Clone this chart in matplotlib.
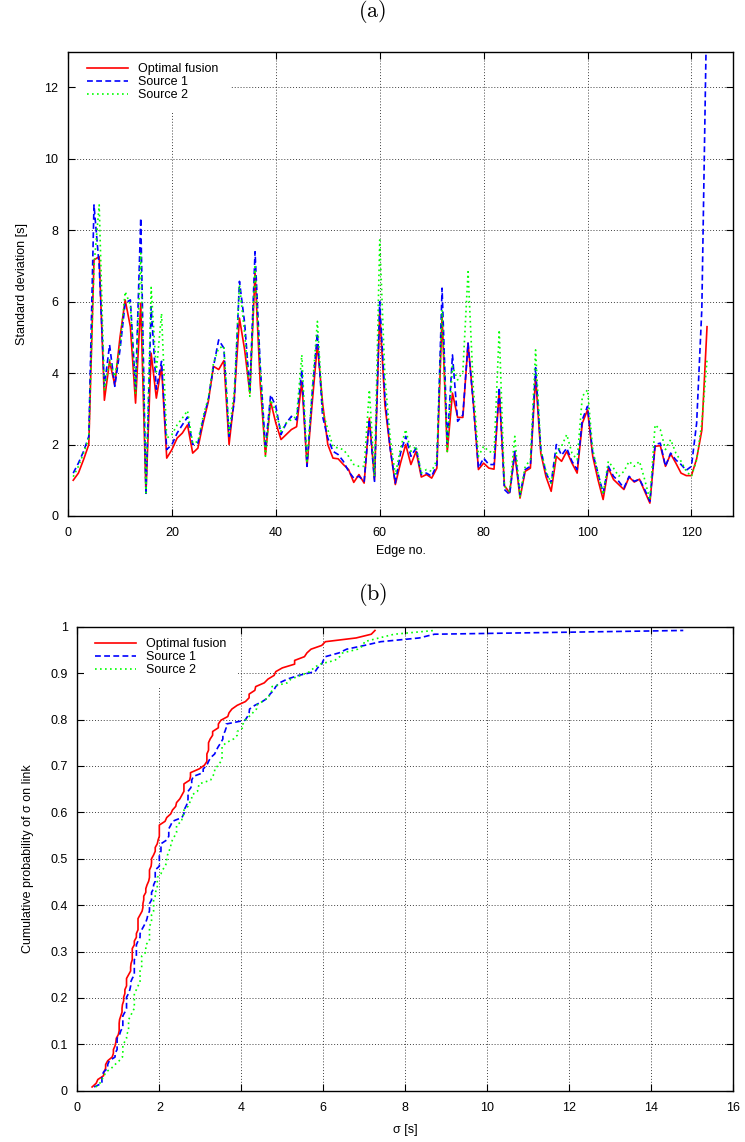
import numpy as np
import matplotlib
matplotlib.use("Agg")
import matplotlib.pyplot as plt
from matplotlib.ticker import MultipleLocator, FormatStrFormatter

plt.rcParams['font.family'] = ['Liberation Sans', 'DejaVu Sans']
plt.rcParams['mathtext.fontset'] = 'cm'

# standard deviation per edge (edges 1..123)
optimal = [
    1.0, 1.2, 1.58, 2.0, 7.17, 7.26, 3.24, 4.33, 3.67, 5.0,
    6.05, 5.3, 3.16, 5.96, 0.64, 4.56, 3.3, 4.19, 1.62, 1.86,
    2.18, 2.32, 2.55, 1.76, 1.9, 2.6, 3.2, 4.19, 4.1, 4.35,
    2.0, 3.3, 5.54, 4.65, 3.44, 6.8, 3.7, 1.7, 3.2, 2.6,
    2.14, 2.28, 2.42, 2.5, 3.77, 1.39, 3.16, 4.8, 3.16, 2.0,
    1.62, 1.6, 1.44, 1.3, 0.94, 1.16, 0.92, 2.74, 1.02, 5.7,
    3.1, 1.9, 0.88, 1.48, 2.0, 1.44, 1.81, 1.09, 1.16, 1.06,
    1.34, 5.6, 1.8, 3.44, 2.76, 2.76, 4.84, 3.2, 1.3, 1.48,
    1.34, 1.31, 3.5, 0.85, 0.65, 1.76, 0.5, 1.25, 1.34, 3.9,
    1.76, 1.1, 0.69, 1.67, 1.53, 1.81, 1.48, 1.2, 2.6, 2.97,
    1.67, 1.02, 0.46, 1.34, 1.02, 0.88, 0.74, 1.09, 0.95, 1.03,
    0.69, 0.36, 1.95, 1.97, 1.39, 1.74, 1.48, 1.2, 1.13, 1.13,
    1.6, 2.4, 5.3]

source1 = [
    1.2, 1.48, 1.81, 2.23, 8.71, 7.0, 3.63, 4.79, 3.63, 4.65,
    5.96, 6.05, 3.55, 8.34, 0.6, 5.86, 3.55, 4.33, 1.86, 2.0,
    2.32, 2.55, 2.77, 2.0, 2.04, 2.7, 3.25, 4.19, 4.93, 4.7,
    2.23, 3.2, 6.57, 5.4, 3.5, 7.4, 4.2, 1.9, 3.39, 3.07,
    2.28, 2.6, 2.79, 2.69, 4.09, 1.39, 3.44, 5.12, 2.79, 2.18,
    1.81, 1.72, 1.53, 1.25, 1.06, 1.11, 0.97, 2.7, 0.97, 6.0,
    3.35, 1.9, 0.92, 1.76, 2.23, 1.67, 1.9, 1.16, 1.2, 1.11,
    1.44, 6.38, 2.04, 4.51, 2.65, 2.83, 4.84, 3.16, 1.34, 1.62,
    1.44, 1.44, 3.6, 0.74, 0.6, 1.81, 0.6, 1.3, 1.39, 4.15,
    1.86, 1.2, 0.92, 2.0, 1.7, 1.9, 1.53, 1.3, 2.7, 3.07,
    1.76, 1.2, 0.64, 1.39, 1.11, 0.97, 0.78, 1.11, 0.97, 1.03,
    0.74, 0.41, 2.0, 2.04, 1.39, 1.76, 1.57, 1.44, 1.28, 1.39,
    2.6, 5.8, 14.78]

source2 = [
    1.1, 1.39, 1.76, 2.18, 7.0, 8.71, 3.53, 4.37, 3.9, 4.75,
    6.28, 5.91, 3.44, 7.36, 0.65, 6.4, 4.04, 5.67, 2.18, 2.28,
    2.55, 2.74, 2.95, 2.04, 2.08, 2.79, 3.3, 4.28, 4.7, 4.75,
    2.32, 3.5, 6.47, 5.12, 3.35, 6.98, 4.09, 1.67, 3.25, 2.93,
    2.37, 2.6, 2.7, 2.79, 4.51, 1.48, 3.53, 5.45, 2.97, 2.42,
    1.95, 1.9, 1.86, 1.67, 1.44, 1.39, 1.39, 3.53, 1.11, 7.73,
    3.9, 2.2, 1.15, 1.9, 2.42, 1.81, 1.95, 1.2, 1.3, 1.25,
    1.57, 5.77, 1.81, 4.19, 3.81, 4.04, 6.84, 3.63, 1.67, 1.95,
    1.81, 1.76, 5.21, 0.83, 0.7, 2.23, 0.55, 1.39, 1.57, 4.65,
    1.86, 1.25, 0.92, 1.76, 1.95, 2.28, 1.76, 1.57, 3.35, 3.53,
    1.86, 1.2, 0.6, 1.53, 1.34, 1.11, 1.25, 1.53, 1.39, 1.53,
    1.02, 0.45, 2.55, 2.42, 1.86, 2.14, 1.76, 1.53, 1.25, 1.11,
    1.57, 2.6, 4.37]

edges = np.arange(1, len(optimal) + 1)
labels = ['Optimal fusion', 'Source 1', 'Source 2']
colors = ['#ff0000', '#0000ff', '#00ff00']
styles = ['-', (0, (3.5, 2.0)), (0, (1.0, 2.0))]


def ecdf(values):
    s = np.sort(values)
    p = np.arange(1, len(s) + 1) / (len(s) + 1)
    return s, p


def style_axes(ax):
    ax.grid(True, color='black', linestyle=(0, (1, 2)), linewidth=0.7, alpha=0.75)
    ax.tick_params(direction='in', top=True, right=True, length=5, width=0.8,
                   labelsize=9, colors='black')
    ax.tick_params(axis='y', pad=7)
    ax.tick_params(axis='x', pad=8)
    for spine in ax.spines.values():
        spine.set_color('black')
        spine.set_linewidth(1.0)


def add_legend(ax, xoff):
    leg = ax.legend(loc='upper left', bbox_to_anchor=(xoff, 1.0), fontsize=9,
                    handlelength=3.3, handletextpad=0.8, labelspacing=0.1,
                    borderpad=0.9, borderaxespad=0.0, frameon=True,
                    fancybox=False, framealpha=1.0)
    leg.get_frame().set_facecolor('white')
    leg.get_frame().set_edgecolor('none')
    # keep the frame of the axes visible above the white legend box
    leg.set_zorder(2.4)


fig = plt.figure(figsize=(7.45, 11.42), dpi=100)
fig.patch.set_facecolor('white')

# (a) standard deviation per edge
ax1 = fig.add_axes([0.0913, 0.5482, 0.8926, 0.4065])
for vals, lab, col, ls in zip([optimal, source1, source2], labels, colors, styles):
    ax1.plot(edges, vals, color=col, linestyle=ls, linewidth=1.2, label=lab)
ax1.set_xlim(0, 128)
ax1.set_ylim(0, 13)
ax1.xaxis.set_major_locator(MultipleLocator(20))
ax1.yaxis.set_major_locator(MultipleLocator(2))
ax1.set_xlabel('Edge no.', fontsize=9, labelpad=4)
ax1.set_ylabel('Standard deviation [s]', fontsize=9, labelpad=12)
style_axes(ax1)
add_legend(ax1, 0.012)

# (b) cumulative distribution of sigma
ax2 = fig.add_axes([0.1038, 0.0449, 0.8805, 0.4063])
for vals, lab, col, ls in zip([optimal, source1, source2], labels, colors, styles):
    s, p = ecdf(vals)
    ax2.plot(s, p, color=col, linestyle=ls, linewidth=1.2, label=lab)
ax2.set_xlim(0, 16)
ax2.set_ylim(0, 1)
ax2.xaxis.set_major_locator(MultipleLocator(2))
ax2.yaxis.set_major_locator(MultipleLocator(0.1))
ax2.yaxis.set_major_formatter(FormatStrFormatter('%g'))
ax2.set_xlabel('σ [s]', fontsize=9, labelpad=7)
ax2.set_ylabel('Cumulative probability of σ on link', fontsize=9, labelpad=12)
style_axes(ax2)
add_legend(ax2, 0.01)

fig.text(0.5, 0.9895, r'$\mathrm{(a)}$', ha='center', va='center', fontsize=16)
fig.text(0.5, 0.479, r'$\mathrm{(b)}$', ha='center', va='center', fontsize=16)

fig.savefig('out.png', dpi=100, facecolor='white')
plt.close(fig)
